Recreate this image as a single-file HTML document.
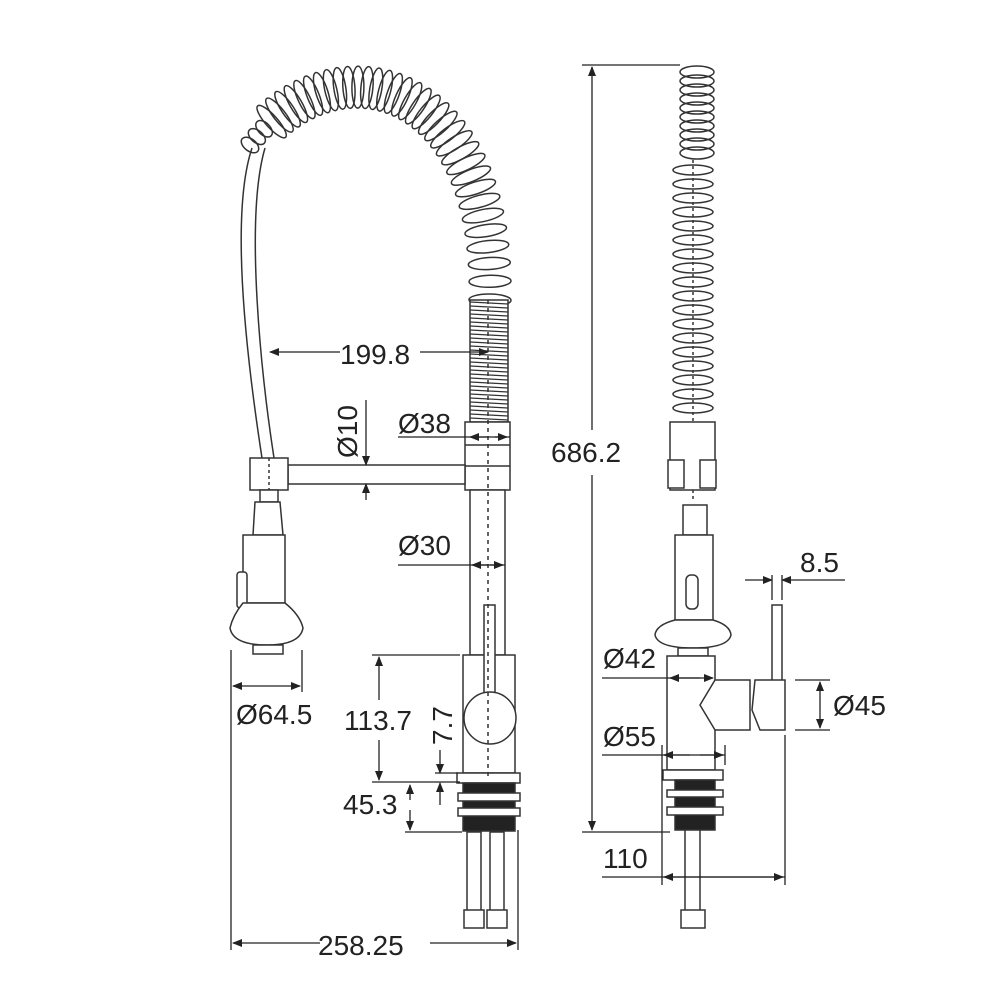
<!DOCTYPE html>
<html><head><meta charset="utf-8"><style>
body{margin:0;background:#fff}
svg{display:block}
text{font-family:"Liberation Sans",sans-serif;font-size:28px;fill:#222}
</style></head><body>
<svg id="s" width="1000" height="1000" viewBox="0 0 1000 1000" xmlns="http://www.w3.org/2000/svg">
<defs>
<marker id="a" markerWidth="10" markerHeight="8" refX="9" refY="4" orient="auto" markerUnits="userSpaceOnUse"><path d="M0,0 L10,4 L0,8z" fill="#222"/></marker>
</defs>
<g id="coils" fill="none" stroke="#333" stroke-width="1.5"></g>
<g fill="#fff" stroke="#333" stroke-width="1.5">
<path d="M252,148 C228,220 250,380 262,458" fill="none"/>
<path d="M265,148 C244,220 262,380 274,458" fill="none"/>
<rect x="470" y="300" width="38" height="122"/>
<rect x="465" y="422" width="45" height="68"/>
<line x1="465" y1="445" x2="510" y2="445"/><line x1="465" y1="466" x2="510" y2="466"/>
<rect x="470" y="490" width="35" height="165"/>
<rect x="288" y="465" width="177" height="19"/>
<rect x="250" y="458" width="38" height="32"/>
<line x1="269" y1="458" x2="269" y2="490" stroke-dasharray="3 3"/>
<rect x="260" y="490" width="18" height="12"/>
<path d="M255,502 H280 L283,535 H253 Z"/>
<rect x="243" y="535" width="42" height="68"/>
<rect x="237" y="572" width="10" height="36" rx="3"/>
<path d="M243,603 H285 Q300,615 303,628 Q300,645 267,645 Q233,645 230,628 Q233,615 243,603Z"/>
<rect x="253" y="645" width="30" height="9"/>
<rect x="463" y="655" width="52" height="118"/>
<rect x="484" y="605" width="11" height="110"/>
<circle cx="490" cy="718" r="26"/>
<rect x="457" y="773" width="63" height="10"/>
<rect x="463" y="783" width="52" height="48" fill="#222"/>
<rect x="458" y="793" width="62" height="8"/><rect x="458" y="808" width="62" height="8"/>
<rect x="467" y="832" width="14" height="80"/><rect x="490" y="832" width="14" height="80"/>
<rect x="464" y="910" width="20" height="18"/><rect x="487" y="910" width="20" height="18"/>

<rect x="670" y="422" width="45" height="68"/>
<rect x="668" y="460" width="16" height="28"/><rect x="700" y="460" width="16" height="28"/>
<rect x="683" y="505" width="24" height="30"/>
<rect x="675" y="535" width="38" height="85"/>
<rect x="686" y="575" width="12" height="34" rx="5"/>
<path d="M675,620 H713 Q730,625 731,635 Q728,648 693,648 Q658,648 655,635 Q656,625 675,620Z"/>
<rect x="678" y="648" width="30" height="8"/>
<rect x="667" y="656" width="48" height="114"/>
<path d="M715,680 H750 V730 H715 L700,705 Z"/>
<rect x="772" y="605" width="10" height="78"/>
<path d="M755,680 H785 V730 H760 L752,710Z"/>
<rect x="663" y="770" width="60" height="10"/>
<rect x="675" y="780" width="40" height="50" fill="#222"/>
<rect x="667" y="790" width="56" height="7"/><rect x="667" y="807" width="56" height="8"/>
<rect x="685" y="830" width="15" height="82"/>
<rect x="681" y="910" width="24" height="18"/>
</g>
<g id="tight" fill="none" stroke="#333" stroke-width="1.3"></g>
<line x1="488" y1="300" x2="488" y2="780" stroke="#333" stroke-width="1.5" stroke-dasharray="4 4"/>
<g stroke="#222" stroke-width="1.3" fill="none">
<line x1="340" y1="352" x2="270" y2="352" marker-end="url(#a)"/><line x1="420" y1="352" x2="488" y2="352" marker-end="url(#a)"/>
<line x1="366" y1="400" x2="366" y2="465" marker-end="url(#a)"/><line x1="366" y1="500" x2="366" y2="484" marker-end="url(#a)"/>
<line x1="398" y1="437" x2="510" y2="437"/><line x1="488" y1="437" x2="470" y2="437" marker-end="url(#a)"/><line x1="495" y1="437" x2="507" y2="437" marker-end="url(#a)"/>
<line x1="398" y1="565" x2="505" y2="565"/><line x1="488" y1="565" x2="472" y2="565" marker-end="url(#a)"/><line x1="490" y1="565" x2="503" y2="565" marker-end="url(#a)"/>
<line x1="231" y1="650" x2="231" y2="950"/><line x1="302" y1="650" x2="302" y2="692"/>
<line x1="266" y1="686" x2="233" y2="686" marker-end="url(#a)"/><line x1="266" y1="686" x2="300" y2="686" marker-end="url(#a)"/>
<line x1="372" y1="655" x2="460" y2="655"/><line x1="372" y1="782" x2="460" y2="782"/>
<line x1="379" y1="700" x2="379" y2="657" marker-end="url(#a)"/><line x1="379" y1="740" x2="379" y2="780" marker-end="url(#a)"/>
<line x1="440" y1="750" x2="440" y2="773" marker-end="url(#a)"/><line x1="440" y1="805" x2="440" y2="783" marker-end="url(#a)"/><line x1="435" y1="773" x2="458" y2="773"/>
<line x1="410" y1="800" x2="410" y2="785" marker-end="url(#a)"/><line x1="410" y1="810" x2="410" y2="830" marker-end="url(#a)"/><line x1="405" y1="832" x2="462" y2="832"/>
<line x1="518" y1="830" x2="518" y2="950"/>
<line x1="320" y1="943" x2="233" y2="943" marker-end="url(#a)"/><line x1="430" y1="943" x2="516" y2="943" marker-end="url(#a)"/>
<line x1="582" y1="65" x2="680" y2="65"/><line x1="582" y1="832" x2="670" y2="832"/>
<line x1="592" y1="430" x2="592" y2="67" marker-end="url(#a)"/><line x1="592" y1="475" x2="592" y2="830" marker-end="url(#a)"/>
<line x1="745" y1="580" x2="772" y2="580" marker-end="url(#a)"/><line x1="845" y1="580" x2="782" y2="580" marker-end="url(#a)"/><line x1="772" y1="575" x2="772" y2="600"/><line x1="782" y1="575" x2="782" y2="600"/>
<line x1="602" y1="678" x2="700" y2="678"/><line x1="690" y1="678" x2="670" y2="678" marker-end="url(#a)"/><line x1="690" y1="678" x2="713" y2="678" marker-end="url(#a)"/>
<line x1="795" y1="680" x2="830" y2="680"/><line x1="795" y1="730" x2="830" y2="730"/>
<line x1="820" y1="705" x2="820" y2="682" marker-end="url(#a)"/><line x1="820" y1="705" x2="820" y2="728" marker-end="url(#a)"/>
<line x1="602" y1="755" x2="725" y2="755"/><line x1="662" y1="745" x2="662" y2="885"/><line x1="725" y1="745" x2="725" y2="765"/>
<line x1="690" y1="755" x2="664" y2="755" marker-end="url(#a)"/><line x1="700" y1="755" x2="723" y2="755" marker-end="url(#a)"/>
<line x1="785" y1="735" x2="785" y2="885"/>
<line x1="602" y1="877" x2="785" y2="877"/><line x1="720" y1="877" x2="664" y2="877" marker-end="url(#a)"/><line x1="720" y1="877" x2="783" y2="877" marker-end="url(#a)"/>
</g>
<text x="340" y="364">199.8</text>
<text x="398" y="433">Ø38</text>
<text x="398" y="555">Ø30</text>
<text x="236" y="724">Ø64.5</text>
<text x="344" y="730">113.7</text>
<text x="343" y="814">45.3</text>
<text x="318" y="955">258.25</text>
<text x="551" y="462">686.2</text>
<text x="800" y="572">8.5</text>
<text x="603" y="668">Ø42</text>
<text x="833" y="715">Ø45</text>
<text x="603" y="746">Ø55</text>
<text x="603" y="868">110</text>
<text transform="translate(357,458) rotate(-90)">Ø10</text>
<text transform="translate(452,745) rotate(-90)">7.7</text>
</svg>
<script>
var g=document.getElementById('coils'),tg=document.getElementById('tight'),ns='http://www.w3.org/2000/svg';
function B(t){var u=1-t;return[u*u*u*490+3*u*u*t*495+3*u*t*t*330+t*t*t*250,u*u*u*300+3*u*u*t*70+3*u*t*t*40+t*t*t*145];}
for(var i=0;i<=36;i++){var t=i/36,p=B(t),q=B(Math.min(t+0.01,1)),r=B(Math.max(t-0.01,0));
var ang=Math.atan2(q[1]-r[1],q[0]-r[0])*180/Math.PI;
var e=document.createElementNS(ns,'ellipse');e.setAttribute('cx',p[0]);e.setAttribute('cy',p[1]);e.setAttribute('rx',6);e.setAttribute('ry',i>33?10:21);
e.setAttribute('transform','rotate('+ang+' '+p[0]+' '+p[1]+')');g.appendChild(e);}
for(var y=302;y<420;y+=4){var l=document.createElementNS(ns,'line');l.setAttribute('x1',470);l.setAttribute('x2',508);l.setAttribute('y1',y);l.setAttribute('y2',y+2);tg.appendChild(l);}
for(var y=72;y<158;y+=9){var e=document.createElementNS(ns,'ellipse');e.setAttribute('cx',697);e.setAttribute('cy',y);e.setAttribute('rx',17);e.setAttribute('ry',6);g.appendChild(e);}
for(var y=170;y<420;y+=14){var e=document.createElementNS(ns,'ellipse');e.setAttribute('cx',693);e.setAttribute('cy',y);e.setAttribute('rx',20);e.setAttribute('ry',5);g.appendChild(e);}
var l=document.createElementNS(ns,'line');l.setAttribute('x1',693);l.setAttribute('x2',693);l.setAttribute('y1',160);l.setAttribute('y2',500);l.setAttribute('stroke-dasharray','3 3');g.appendChild(l);
</script>
</body></html>
